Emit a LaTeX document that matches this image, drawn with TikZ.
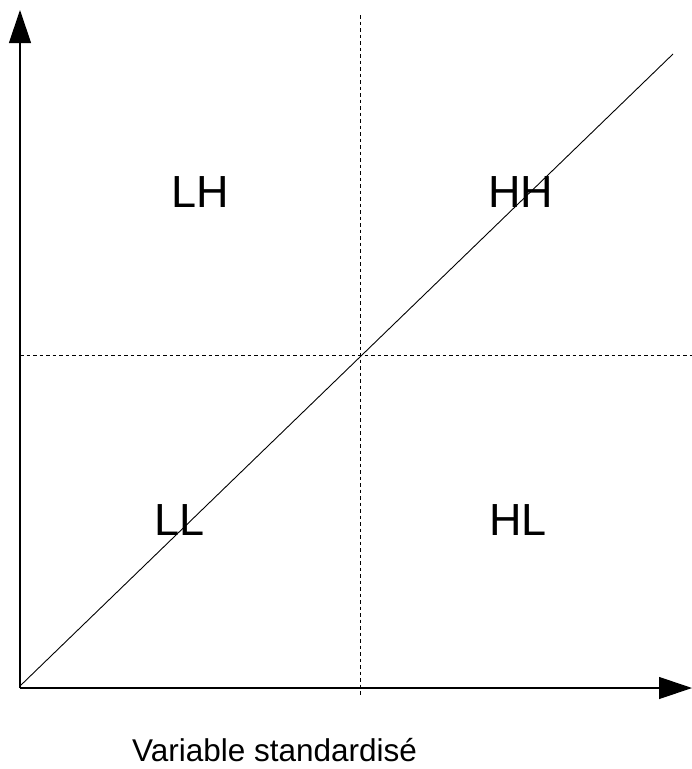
\documentclass[tikz,border=0pt]{standalone}
\usepackage{fontspec}
\setmainfont{Liberation Sans}
\usetikzlibrary{arrows.meta}

\begin{document}
\begin{tikzpicture}[
  x=1pt, y=-1pt,
  axis/.style={line width=1.2pt,black,-{Triangle[length=33pt,width=22pt]}},
  split/.style={line width=0.8pt,black,dash pattern=on 3.5pt off 3pt},
  diag/.style={line width=0.9pt,black},
  quad/.style={font=\fontsize{45}{50}\selectfont,anchor=base,inner sep=0pt},
  lbl/.style={font=\fontsize{31.5}{36}\selectfont,anchor=base,inner sep=0pt,text depth=0pt}]

\useasboundingbox (0,0) rectangle (692,769);

\coordinate (o) at (20,688);
\coordinate (ytop) at (20,10);
\coordinate (xend) at (692,688);
\coordinate (vtop) at (360,15);
\coordinate (vbot) at (360,697);
\coordinate (hleft) at (20,355);
\coordinate (hright) at (692,355);
\coordinate (dstart) at (20,686);
\coordinate (dend) at (673,54);

% quadrant split
\draw[split] (vtop) -- (vbot);
\draw[split] (hleft) -- (hright);

% axes
\draw[axis] (o) -- (ytop);
\draw[axis] (o) -- (xend);

% first bisector
\draw[diag] (dstart) -- (dend);

\node[quad] (lh) at (200,207) {LH};
\node[quad] (hh) at (521,207) {HH};
\node[quad] (ll) at (180,535) {LL};
\node[quad] (hl) at (518,535) {HL};

\node[lbl] (xlab) at (274.5,761) {Variable standardisé};
\end{tikzpicture}
\end{document}
